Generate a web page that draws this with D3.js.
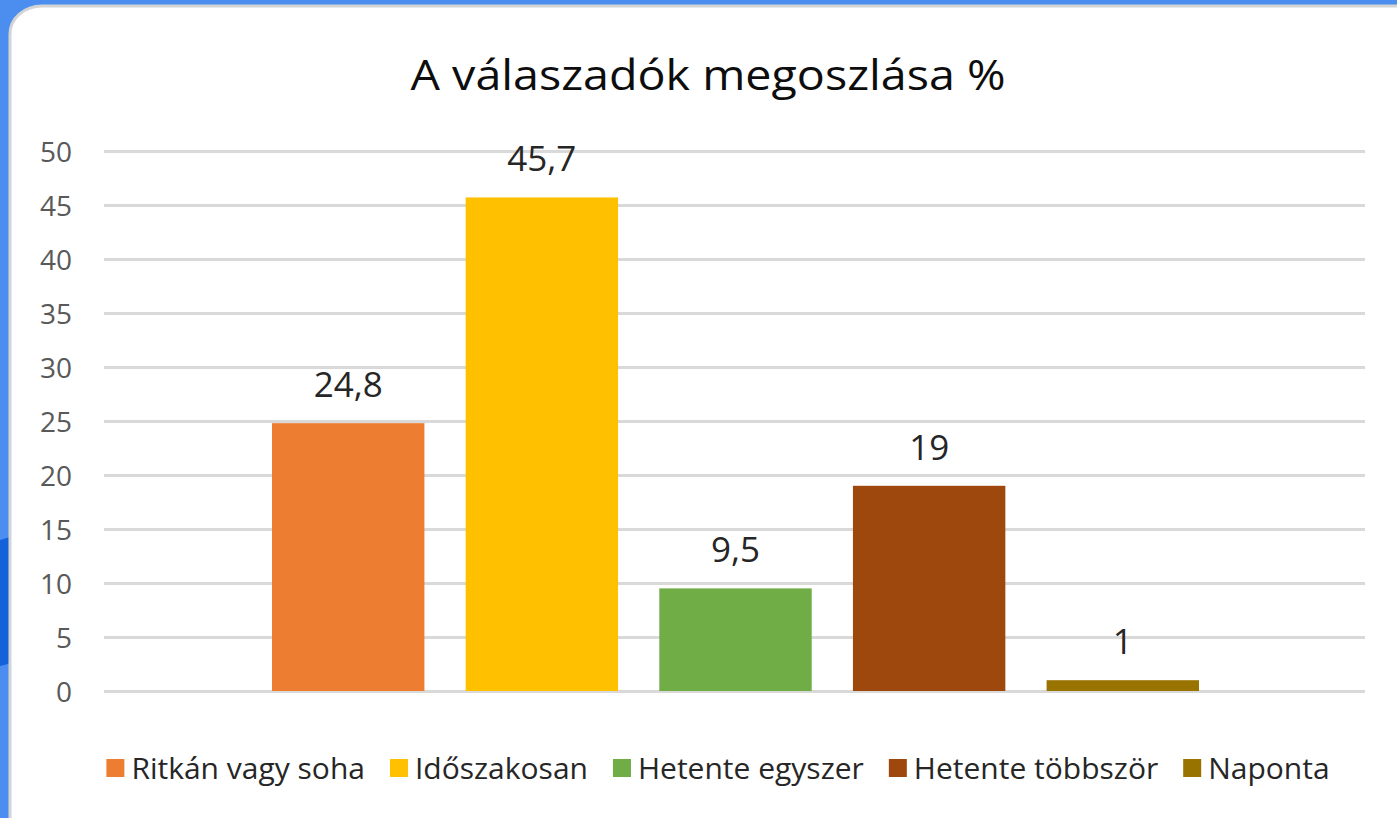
<!DOCTYPE html>
<html lang="hu">
<head>
<meta charset="utf-8">
<title>A válaszadók megoszlása %</title>
<script src="https://cdn.jsdelivr.net/npm/d3@7"></script>
<style>
	html,body{ margin:0; padding:0; background:#4b8ef0; overflow:hidden; }
	svg{ display:block; font-family:"Open Sans", sans-serif; }
</style>
</head>
<body>
<svg id="chart" width="1397" height="818"></svg>
<script>
// data
const seriesNames=["Ritkán vagy soha","Időszakosan","Hetente egyszer","Hetente többször","Naponta"];
const seriesValues=[24.8,45.7,9.5,19,1];
const valueLabels=["24,8","45,7","9,5","19","1"];
const seriesColors=["#ED7D31","#FFC000","#70AD47","#9E480E","#997300"];
const yTicks=[0,5,10,15,20,25,30,35,40,45,50];
const title="A válaszadók megoszlása %";

const svg=d3.select("#chart");

// background + card
svg.append("rect").attr("width",1397).attr("height",818).attr("fill","#4b8ef0");
svg.append("path")
	.attr("d","M0,540 C6,538 10,537 12,536 L12,662 C8,664 4,665 0,666 Z")
	.attr("fill","#1462da");
svg.append("rect")
	.attr("x",10).attr("y",6).attr("width",1420).attr("height",840)
	.attr("rx",32).attr("ry",28)
	.attr("fill","#ffffff").attr("stroke","#d4d4d4").attr("stroke-width",3);

// scales
const plotLeft=104, plotRight=1365;
const y=d3.scaleLinear().domain([0,50]).range([691,151]);
const x=d3.scaleBand().domain(seriesNames).range([272,1199]).paddingInner(0.213);

// grid / axis
const axis=d3.axisLeft(y).tickValues(yTicks).tickSize(-(plotRight-plotLeft)).tickPadding(32);
const g=svg.append("g").attr("transform","translate("+plotLeft+",0)").call(axis);
g.select(".domain").remove();
g.selectAll(".tick line").attr("stroke","#d9d9d9").attr("stroke-width",3);
g.selectAll(".tick text")
	.attr("fill","#595959")
	.style("font-size","28px")
	.style("font-family","'Open Sans', sans-serif")
	.attr("dy","0.36em");

// bars
svg.selectAll("rect.bar")
	.data(seriesValues)
	.enter()
	.append("rect")
	.attr("class","bar")
	.attr("x",(d,i)=>x(seriesNames[i]))
	.attr("width",x.bandwidth())
	.attr("y",d=>y(d))
	.attr("height",d=>y(0)-y(d))
	.attr("fill",(d,i)=>seriesColors[i]);

// value labels
svg.selectAll("text.val")
	.data(seriesValues)
	.enter()
	.append("text")
	.attr("class","val")
	.attr("x",(d,i)=>x(seriesNames[i])+x.bandwidth()/2)
	.attr("y",d=>y(d)-26)
	.attr("text-anchor","middle")
	.attr("fill","#262626")
	.style("font-size","35px")
	.text((d,i)=>valueLabels[i]);

// title
const t=svg.append("text")
	.attr("x",708).attr("y",90)
	.attr("text-anchor","middle")
	.attr("fill","#0d0d0d")
	.style("font-size","42px")
	.text(title);
t.attr("textLength",595).attr("lengthAdjust","spacingAndGlyphs");

// legend
const leg=svg.append("g");
let cx=0;
const squeeze=1.0;
seriesNames.forEach((n,i)=>{
	const item=leg.append("g").attr("transform","translate("+cx+",0)");
	item.append("rect").attr("x",0).attr("y",-9).attr("width",18).attr("height",18).attr("fill",seriesColors[i]);
	const tx=item.append("text").attr("x",25).attr("y",11)
		.attr("fill","#262626").style("font-size","30px").text(n);
	const w=tx.node().getComputedTextLength()*squeeze;
	tx.attr("textLength",w).attr("lengthAdjust","spacingAndGlyphs");
	cx+=25+w+25;
});
const legW=cx-25;
leg.attr("transform","translate("+(718-legW/2)+",768)");
</script>
</body>
</html>
